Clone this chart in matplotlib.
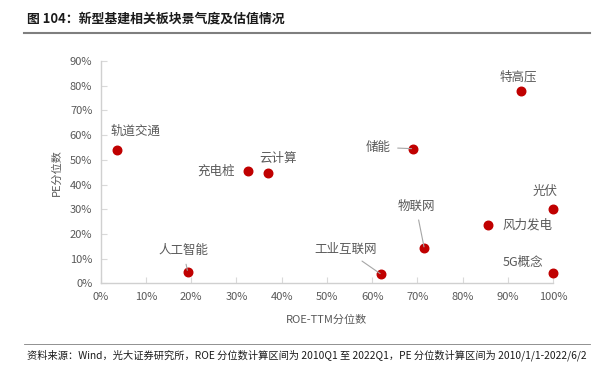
import matplotlib.pyplot as plt
from matplotlib.ticker import PercentFormatter
import numpy as np

plt.rcParams['font.family'] = ['Noto Sans CJK SC', 'DejaVu Sans']

# sector names, ROE-TTM percentile (x) and PE percentile (y)
names = ['轨道交通', '人工智能', '充电桩', '云计算', '工业互联网', '物联网',
         '储能', '特高压', '风力发电', '光伏', '5G概念']
roe_pct = [0.035, 0.192, 0.326, 0.370, 0.620, 0.715, 0.690, 0.929, 0.855, 1.000, 1.000]
pe_pct = [0.541, 0.047, 0.455, 0.448, 0.036, 0.142, 0.545, 0.777, 0.237, 0.300, 0.040]

# label offsets in points (dx, dy) and whether a leader line is drawn
offsets = [(14, 13), (-3, 15), (-23, 0), (7, 10), (-26, 18), (-6, 30),
           (-25, 1), (-2, 10), (29, 0), (-6, 13), (-22, 8)]
leaders = [False, True, False, False, True, True, True, False, False, False, False]

fig = plt.figure(figsize=(5.93, 3.72), dpi=100)
ax = fig.add_axes([0.1698, 0.2384, 0.7632, 0.5976])

ax.scatter(roe_pct, pe_pct, s=38, color='#c00000', zorder=3, clip_on=False)

for n, x, y, (dx, dy), ld in zip(names, roe_pct, pe_pct, offsets, leaders):
    arrow = dict(arrowstyle='-', color='#a6a6a6', lw=0.8, shrinkA=3, shrinkB=1) if ld else None
    ax.annotate(n, (x, y), xytext=(dx, dy), textcoords='offset points',
                ha='center', va='center', fontsize=9, color='#595959',
                arrowprops=arrow)

ax.set_xlim(0, 1.0)
ax.set_ylim(0, 0.9)
ax.set_xticks(np.arange(0, 1.01, 0.1))
ax.set_yticks(np.arange(0, 0.91, 0.1))
ax.xaxis.set_major_formatter(PercentFormatter(1.0, decimals=0))
ax.yaxis.set_major_formatter(PercentFormatter(1.0, decimals=0))
ax.tick_params(direction='in', length=4, color='#d9d9d9', labelcolor='#595959',
               labelsize=8, pad=6)

for s in ['top', 'right']:
    ax.spines[s].set_visible(False)
for s in ['left', 'bottom']:
    ax.spines[s].set_color('#d0d0d0')
    ax.spines[s].set_linewidth(1.0)

ax.set_xlabel('ROE-TTM分位数', fontsize=8, color='#595959', labelpad=9)
ax.set_ylabel('PE分位数', fontsize=8, color='#595959', labelpad=6)

# title and source
fig.text(27 / 593, 1 - 19 / 372, '图 104：新型基建相关板块景气度及估值情况',
         fontsize=9.3, fontweight='bold', color='#1a1a1a', va='center', ha='left')
fig.add_artist(plt.Line2D([24 / 593, 590 / 593], [1 - 33 / 372, 1 - 33 / 372],
                          color='#7f7f7f', lw=1.5))
fig.add_artist(plt.Line2D([24 / 593, 590 / 593], [1 - 344 / 372, 1 - 344 / 372],
                          color='#7f7f7f', lw=0.6))
fig.text(27 / 593, 1 - 355 / 372,
         '资料来源：Wind，光大证券研究所，ROE 分位数计算区间为 2010Q1 至 2022Q1，PE 分位数计算区间为 2010/1/1-2022/6/2',
         fontsize=7.35, color='#1a1a1a', va='center', ha='left')

fig.savefig('out.png', dpi=100)
